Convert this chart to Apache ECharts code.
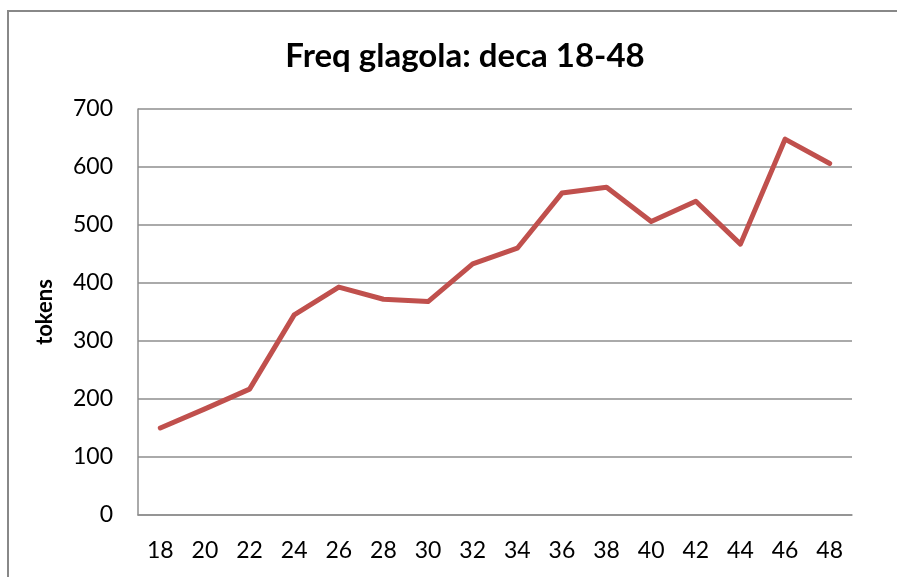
<!DOCTYPE html>
<html>
<head>
<meta charset="utf-8">
<script src="https://cdn.jsdelivr.net/npm/echarts@6/dist/echarts.min.js"></script>
<style>
  html, body { margin: 0; padding: 0; background: #fff; }
  #box { width: 897px; height: 577px; }
</style>
</head>
<body>
<div id="box"></div>
<script>
// data
var ages = ['18', '20', '22', '24', '26', '28', '30', '32', '34', '36', '38', '40', '42', '44', '46', '48'];
var tokens = [150, 183, 217, 345, 393, 372, 368, 433, 460, 555, 565, 506, 541, 467, 648, 606];
var yTicks = [0, 100, 200, 300, 400, 500, 600, 700];

window.onload = function () {
    var charts = echarts.init(document.getElementById('box'));

    var option = {
        animation: false,
        textStyle: { fontFamily: 'Lato' },
        title: {
            text: 'Freq glagola: deca 18-48',
            left: 460,
            top: 35,
            textAlign: 'center',
            textStyle: { fontFamily: 'Lato', fontWeight: 'bold', fontSize: 33, color: '#000' }
        },
        graphic: [{
            type: 'rect',
            shape: { x: 8, y: 11, width: 920, height: 620 },
            style: { fill: null, stroke: '#888', lineWidth: 2 },
            silent: true
        }],
        grid: { left: 138, right: 45, top: 109, bottom: 62 },
        xAxis: {
            type: 'category',
            data: ages,
            boundaryGap: true,
            axisLine: { lineStyle: { color: '#8e8e8e', width: 1.5 } },
            axisTick: { show: false },
            axisLabel: { color: '#000', fontSize: 23, margin: 24, fontFamily: 'Lato' }
        },
        yAxis: {
            type: 'value',
            min: yTicks[0],
            max: yTicks[yTicks.length - 1],
            interval: 100,
            name: 'tokens',
            nameLocation: 'middle',
            nameGap: 82,
            nameTextStyle: { color: '#000', fontSize: 22, fontWeight: 'bold', fontFamily: 'Lato' },
            axisLine: { show: true, lineStyle: { color: '#8e8e8e', width: 1.5 } },
            axisTick: { show: false },
            axisLabel: { color: '#000', fontSize: 23, margin: 25, fontFamily: 'Lato' },
            splitLine: { lineStyle: { color: '#8e8e8e', width: 1.5 } }
        },
        series: [{
            type: 'line',
            data: tokens,
            symbol: 'none',
            lineStyle: { color: '#C0504D', width: 5, cap: 'round', join: 'round' }
        }]
    };

    charts.setOption(option);
};
</script>
</body>
</html>
